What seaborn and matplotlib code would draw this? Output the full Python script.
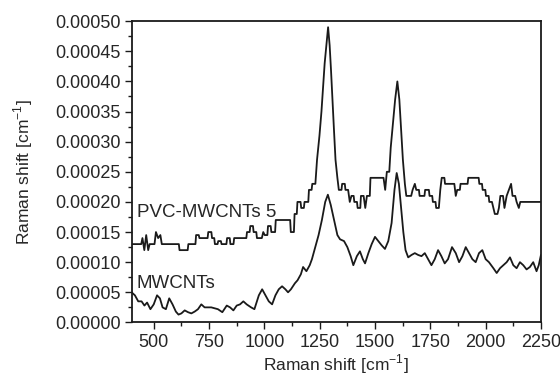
import numpy as np
import pandas as pd
import matplotlib
matplotlib.use('Agg')
import matplotlib.pyplot as plt
import seaborn as sns
from matplotlib.ticker import MultipleLocator, FormatStrFormatter

# upper spectrum (PVC-MWCNTs 5): start of each step level, intensity in 1e-4
pvc_x = [400, 445, 453, 462, 470, 480, 505, 515, 525, 535, 615, 655, 690, 705,
         745, 762, 775, 790, 805, 830, 845, 862, 920, 935, 950, 965, 990, 1000,
         1015, 1030, 1050, 1118, 1135, 1148, 1165, 1180, 1200, 1215, 1232, 1244,
         1254, 1262, 1269, 1276, 1284, 1292, 1298, 1304, 1311, 1318, 1325, 1335,
         1350, 1365, 1380, 1392, 1405, 1420, 1435, 1450, 1462, 1478, 1540, 1552,
         1566, 1576, 1586, 1596, 1606, 1614, 1622, 1630, 1640, 1665, 1675, 1685,
         1700, 1725, 1745, 1760, 1775, 1790, 1800, 1815, 1860, 1870, 1885, 1920,
         1970, 1985, 2000, 2015, 2030, 2040, 2055, 2065, 2080, 2090, 2100, 2110,
         2120, 2135, 2145, 2155, 2250]
pvc_y = [1.30, 1.40, 1.20, 1.45, 1.20, 1.30, 1.50, 1.40, 1.45, 1.30, 1.20, 1.30,
         1.45, 1.40, 1.50, 1.40, 1.30, 1.35, 1.30, 1.40, 1.30, 1.40, 1.50, 1.60,
         1.50, 1.40, 1.50, 1.45, 1.60, 1.50, 1.70, 1.50, 1.80, 2.00, 1.90, 2.00,
         2.20, 2.30, 2.70, 3.10, 3.50, 3.90, 4.30, 4.60, 4.90, 4.60, 4.20, 3.70,
         3.20, 2.70, 2.40, 2.20, 2.30, 2.20, 2.00, 2.10, 2.00, 1.90, 2.10, 1.90,
         2.10, 2.40, 2.20, 2.50, 2.90, 3.30, 3.70, 4.00, 3.70, 3.20, 2.70, 2.30,
         2.10, 2.20, 2.30, 2.20, 2.10, 2.20, 2.10, 2.00, 1.90, 2.20, 2.40, 2.30,
         2.10, 2.20, 2.30, 2.40, 2.30, 2.20, 2.10, 2.00, 1.90, 1.80, 1.90, 2.10,
         1.90, 2.10, 2.20, 2.30, 2.10, 2.00, 1.90, 2.00, 2.00]

# lower spectrum (MWCNTs), intensity in 1e-4
mw_x = [400, 415, 430, 445, 458, 470, 485, 500, 515, 528, 540, 555, 570, 585,
        600, 612, 625, 640, 655, 670, 685, 700, 715, 730, 760, 790, 810, 830,
        845, 860, 875, 890, 905, 920, 940, 955, 975, 990, 1005, 1020, 1035, 1050,
        1065, 1080, 1095, 1107, 1120, 1138, 1150, 1165, 1175, 1190, 1205, 1215,
        1230, 1245, 1260, 1275, 1287, 1300, 1315, 1330, 1342, 1360, 1375, 1390,
        1402, 1418, 1432, 1445, 1455, 1470, 1485, 1500, 1515, 1530, 1545, 1560,
        1575, 1588, 1598, 1608, 1618, 1628, 1638, 1650, 1665, 1680, 1695, 1710,
        1725, 1740, 1755, 1770, 1785, 1800, 1815, 1830, 1848, 1865, 1880, 1895,
        1910, 1925, 1940, 1955, 1970, 1985, 2000, 2015, 2035, 2050, 2065, 2080,
        2095, 2110, 2125, 2140, 2155, 2170, 2185, 2200, 2215, 2230, 2240, 2250]
mw_y = [0.50, 0.45, 0.35, 0.35, 0.28, 0.33, 0.22, 0.30, 0.45, 0.40, 0.25, 0.22,
        0.40, 0.30, 0.18, 0.13, 0.15, 0.20, 0.17, 0.15, 0.18, 0.22, 0.30, 0.25,
        0.25, 0.22, 0.17, 0.28, 0.25, 0.20, 0.28, 0.30, 0.35, 0.30, 0.25, 0.22,
        0.45, 0.55, 0.45, 0.35, 0.30, 0.45, 0.55, 0.60, 0.55, 0.50, 0.55, 0.65,
        0.70, 0.80, 0.92, 0.85, 0.95, 1.05, 1.25, 1.45, 1.70, 2.00, 2.12, 1.95,
        1.70, 1.45, 1.38, 1.35, 1.25, 1.10, 0.95, 1.10, 1.18, 1.05, 0.98, 1.15,
        1.30, 1.42, 1.35, 1.28, 1.22, 1.35, 1.65, 2.20, 2.48, 2.30, 1.90, 1.50,
        1.20, 1.08, 1.12, 1.15, 1.12, 1.10, 1.15, 1.05, 0.95, 1.05, 1.20, 1.10,
        0.98, 1.05, 1.25, 1.15, 1.00, 1.10, 1.25, 1.15, 1.05, 1.00, 1.15, 1.20,
        1.05, 1.00, 0.90, 0.82, 0.90, 0.95, 1.00, 1.08, 0.95, 0.90, 1.00, 0.95,
        0.88, 0.92, 1.00, 0.85, 0.95, 1.12]

labels = ['PVC-MWCNTs 5', 'MWCNTs']
xlabel = 'Raman shift [cm$^{-1}$]'
ylabel = 'Raman shift [cm$^{-1}$]'


def step_corners(xs, ys, min_flat=12, edge=1.5):
    # long levels become flat plateaus, short ones (peak flanks) single points
    px, py = [], []
    for i in range(len(xs)):
        x0 = xs[i]
        x1 = xs[i + 1] if i + 1 < len(xs) else xs[i]
        if x1 - x0 > min_flat:
            px += [x0 + (edge if i else 0), x1 - edge]
            py += [ys[i], ys[i]]
        else:
            px.append((x0 + x1) / 2)
            py.append(ys[i])
    return px, py


cx, cy = step_corners(pvc_x, pvc_y)
pvc = pd.DataFrame({'x': cx, 'y': np.array(cy) * 1e-4})
mw = pd.DataFrame({'x': mw_x, 'y': np.array(mw_y) * 1e-4})

sns.set_style('ticks')
plt.rcParams['font.family'] = ['Liberation Sans', 'DejaVu Sans']
plt.rcParams['mathtext.fontset'] = 'custom'
plt.rcParams['mathtext.rm'] = 'Liberation Sans'

fig = plt.figure(figsize=(5.6, 3.78), dpi=100)
ax = fig.add_axes([0.235, 0.147, 0.731, 0.797])

line_col = '#1a1a1a'
sns.lineplot(data=pvc, x='x', y='y', ax=ax, color=line_col, lw=1.3,
             estimator=None, sort=False)
sns.lineplot(data=mw, x='x', y='y', ax=ax, color=line_col, lw=1.3,
             estimator=None)

ax.text(423, 0.000183, labels[0], fontsize=13.5, va='center', ha='left')
ax.text(423, 0.000064, labels[1], fontsize=13.5, va='center', ha='left')

ax.set_xlim(400, 2250)
ax.set_ylim(0, 0.0005)
ax.xaxis.set_major_locator(MultipleLocator(250))
ax.xaxis.set_minor_locator(MultipleLocator(125))
ax.yaxis.set_major_locator(MultipleLocator(0.00005))
ax.yaxis.set_minor_locator(MultipleLocator(0.000025))
ax.yaxis.set_major_formatter(FormatStrFormatter('%.5f'))
ax.tick_params(which='both', direction='out', color='#1a1a1a', labelsize=13,
               top=False, right=False, pad=3)
ax.tick_params(which='major', length=5, width=1)
ax.tick_params(which='minor', length=3, width=1)
for s in ax.spines.values():
    s.set_linewidth(1.3)
    s.set_color('#1a1a1a')

ax.set_xlabel(xlabel, fontsize=12.5, labelpad=1)
ax.set_ylabel(ylabel, fontsize=12.5, labelpad=14)

fig.savefig('out.png', dpi=100)
